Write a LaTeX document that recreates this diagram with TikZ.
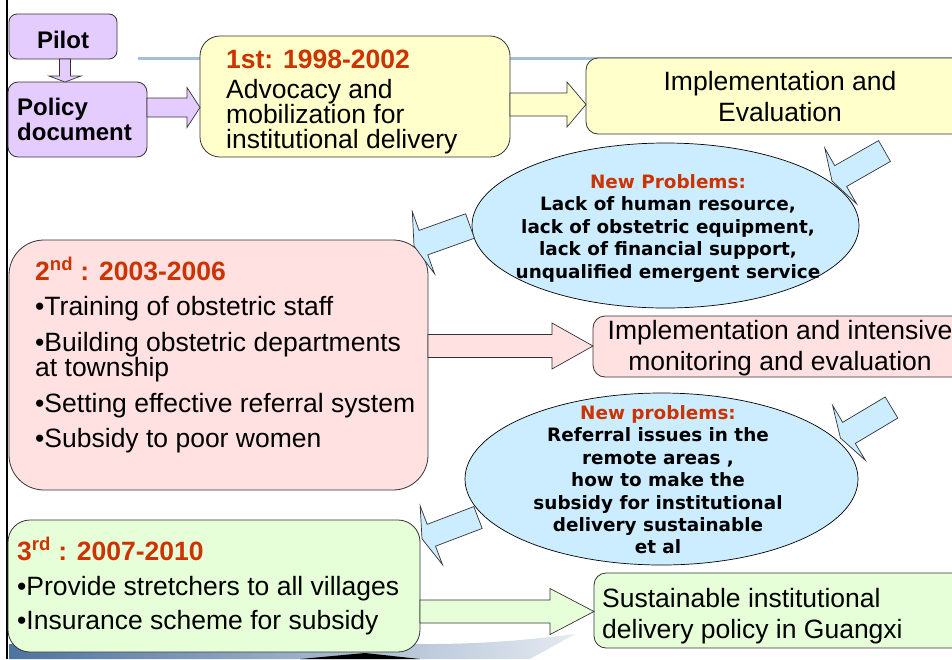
\documentclass[tikz,border=0pt]{standalone}
\usepackage{fontspec}
\setmainfont{Liberation Sans}
\newfontfamily\dvfont{DejaVu Sans}
\usetikzlibrary{calc,shapes.geometric}
\definecolor{hred}{HTML}{CC3300}
\definecolor{lav}{HTML}{E5CCFF}
\definecolor{yel}{HTML}{FFFFCC}
\definecolor{pnk}{HTML}{FFE1E1}
\definecolor{grn}{HTML}{E6FFD9}
\definecolor{lblue}{HTML}{CCECFF}
\definecolor{edge}{HTML}{333333}
\definecolor{rulecol}{HTML}{A6BFD9}
\definecolor{swoosh}{HTML}{4D73A0}
% block arrow: [style]{start}{end}{shaft half width}{head half width}{head length}
\newcommand\barrow[6][]{%
  \coordinate (bj) at ($(#3)!#6!(#2)$);
  \draw[blockarrow,#1] ($(#2)!#4!90:(#3)$) -- ($(bj)!#4!90:(#3)$) -- ($(bj)!#5!90:(#3)$) -- (#3)
     -- ($(bj)!#5!-90:(#3)$) -- ($(bj)!#4!-90:(#3)$) -- ($(#2)!#4!-90:(#3)$) -- cycle;}
\newcommand\cl[2]{\hbox to #1{\hss#2\hss}}
\newcommand\vl[1]{\vtop{\lineskiplimit=-100pt\lineskip=0pt #1}}
\begin{document}
\begin{tikzpicture}[x=1pt,y=-1pt,
  box/.style={draw=edge, line width=0.8pt, inner sep=0pt},
  blockarrow/.style={draw=edge, line width=0.7pt, line join=miter},
  txt/.style={inner sep=0pt, anchor=base west, font=\fontsize{26.5}{26.5}\selectfont},
  btxt/.style={inner sep=0pt, anchor=base west, font=\bfseries\fontsize{24}{24}\selectfont},
  etxt/.style={inner sep=0pt, anchor=base, font=\dvfont\bfseries\fontsize{18.4}{18.4}\selectfont}]
\useasboundingbox (0,0) rectangle (952,659);
\fill[white] (0,0) rectangle (952,659);
% background decoration
\draw[rulecol, line width=3pt] (138,58) -- (952,58);
\shade[left color=swoosh, right color=swoosh!15] (9,644) -- (430,644) .. controls (480,644) and (530,640) .. (575,634) -- (530,659) -- (9,659) -- cycle;
\fill[black] (300,659) -- (365,653) -- (420,659) -- cycle;
\draw[black, line width=2.5pt] (7,0) -- (7,659);
% boxes
\node[box, rounded corners=8pt, fill=lav, minimum width=108pt, minimum height=45pt] (pilot) at (63,36.5) {};
\node[box, rounded corners=10pt, fill=lav, minimum width=139pt, minimum height=75pt] (policy) at (77.5,119.5) {};
\node[box, rounded corners=20pt, fill=yel, minimum width=310pt, minimum height=121pt] (first) at (355,96.5) {};
\node[box, rounded corners=12pt, fill=yel, minimum width=389pt, minimum height=76pt] (impl1) at (780.5,96) {};
\node[box, rounded corners=35pt, fill=pnk, minimum width=419pt, minimum height=250pt] (second) at (218.5,365) {};
\node[box, rounded corners=12pt, fill=pnk, minimum width=382pt, minimum height=61pt] (impl2) at (784,346.5) {};
\node[box, rounded corners=22pt, fill=grn, minimum width=412pt, minimum height=132pt] (third) at (214,586) {};
\node[box, rounded corners=12pt, fill=grn, minimum width=381pt, minimum height=75pt] (sust) at (784.5,610.5) {};
\node[ellipse, draw=black, line width=0.7pt, fill=lblue, inner sep=0pt, minimum width=387pt, minimum height=165pt] (ell1) at (665.5,225.5) {};
\node[ellipse, draw=black, line width=0.7pt, fill=lblue, inner sep=0pt, minimum width=393pt, minimum height=172pt] (ell2) at (661.5,479) {};
% texts
\node[btxt, anchor=base] (tpilot) at (63,48) {Pilot};
\node[btxt] (tpolicy) at (17,115.5) {\vl{\baselineskip=25pt \hbox{Policy}\hbox{document}}};
\node[txt] (tfirst) at (226,68) {\vl{\baselineskip=25pt
  \hbox{\color{hred}\bfseries 1st: 1998-2002}\vskip 5.5pt
  \hbox{Advocacy and}\hbox{mobilization for}\hbox{institutional delivery}}};
\node[txt, anchor=base] (timpl1) at (780,90) {\vl{\baselineskip=31.5pt
  \cl{360pt}{Implementation and}\cl{360pt}{Evaluation}}};
\node[etxt] (tell1) at (668,188) {\vl{\baselineskip=22.5pt
  \cl{330pt}{\color{hred}New Problems:}
  \cl{330pt}{Lack of human resource,}
  \cl{330pt}{lack of obstetric equipment,}
  \cl{330pt}{lack of financial support,}
  \cl{330pt}{unqualified emergent service}}};
\node[txt] (tsecond) at (35,280) {\vl{\baselineskip=25pt
  \hbox{\color{hred}\bfseries 2\textsuperscript{nd} : 2003-2006}\vskip 10.5pt
  \hbox{\textbullet Training of obstetric staff}\vskip 11pt
  \hbox{\textbullet Building obstetric departments}
  \hbox{at township}\vskip 11pt
  \hbox{\textbullet Setting effective referral system}\vskip 10pt
  \hbox{\textbullet Subsidy to poor women}}};
\node[txt, anchor=base] (timpl2) at (780,339) {\vl{\baselineskip=31pt
  \cl{360pt}{Implementation and intensive}\cl{360pt}{monitoring and evaluation}}};
\node[etxt] (tell2) at (658,419.5) {\vl{\baselineskip=22.4pt
  \cl{330pt}{\color{hred}New problems:}
  \cl{330pt}{Referral issues in the}
  \cl{330pt}{remote areas ,}
  \cl{330pt}{how to make the}
  \cl{330pt}{subsidy for institutional}
  \cl{330pt}{delivery sustainable}
  \cl{330pt}{et al}}};
\node[txt] (tthird) at (17,560) {\vl{\baselineskip=25pt
  \hbox{\color{hred}\bfseries 3\textsuperscript{rd} : 2007-2010}\vskip 10pt
  \hbox{\textbullet Provide stretchers to all villages}\vskip 9pt
  \hbox{\textbullet Insurance scheme for subsidy}}};
\node[txt] (tsust) at (602,607) {\vl{\baselineskip=31.5pt
  \hbox{Sustainable institutional}\hbox{delivery policy in Guangxi}}};
% connector end points
\coordinate (a0s) at (65,59);      \coordinate (a0e) at (65,82);
\coordinate (a1s) at (147,107.5);  \coordinate (a1e) at (200,107.5);
\coordinate (a2s) at (510,104.5);  \coordinate (a2e) at (586,104.5);
\coordinate (a3s) at (428,346);    \coordinate (a3e) at (593,346);
\coordinate (a4s) at (420,611.5);  \coordinate (a4e) at (594,611.5);
\coordinate (aAs) at (884.5,151);  \coordinate (aAe) at (832,181);
\coordinate (aBs) at (470,226);    \coordinate (aBe) at (414,246);
\coordinate (aCs) at (891.5,407.5);\coordinate (aCe) at (840.4,438);
\coordinate (aDs) at (478,517.5);  \coordinate (aDe) at (422,538.8);
% block arrows
\barrow[fill=lav]{a0s}{a0e}{5.5pt}{16pt}{6pt}
\barrow[fill=lav]{a1s}{a1e}{9.5pt}{20pt}{13pt}
\barrow[fill=yel]{a2s}{a2e}{11.5pt}{22.5pt}{19pt}
\barrow[fill=pnk]{a3s}{a3e}{11.5pt}{23pt}{41pt}
\barrow[fill=grn]{a4s}{a4e}{11.5pt}{23pt}{44pt}
\barrow[fill=lblue]{aAs}{aAe}{12pt}{32pt}{10pt}
\barrow[fill=lblue]{aBs}{aBe}{13pt}{33pt}{10pt}
\barrow[fill=lblue]{aCs}{aCe}{12.3pt}{32pt}{10pt}
\barrow[fill=lblue]{aDs}{aDe}{11.7pt}{31.5pt}{10pt}
\end{tikzpicture}
\end{document}
